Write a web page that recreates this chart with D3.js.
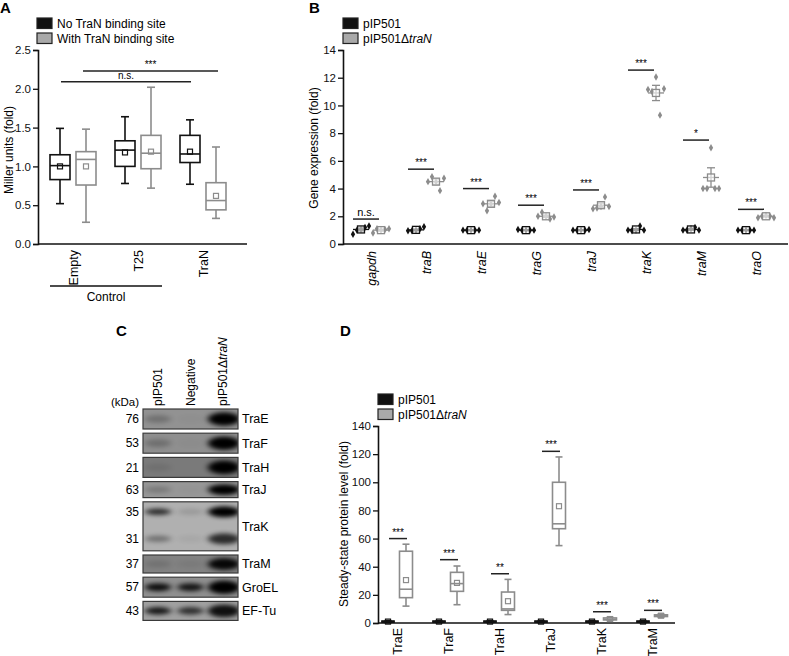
<!DOCTYPE html>
<html><head><meta charset="utf-8">
<script src="https://cdn.jsdelivr.net/npm/d3@7"></script>
<style>body{margin:0;background:#fff} svg{display:block;font-family:"Liberation Sans",Arial,sans-serif}</style>
</head><body><svg id="c" width="789" height="656"></svg>
<script>
// ---------- DATA ----------
// Panel A  (stats: [min, q1, median, q3, max, mean])
const aCategories = ["Empty", "T25", "TraN"];
const aSeriesNames = ["No TraN binding site", "With TraN binding site"];
const aNoSite = [[0.52,0.83,1.01,1.15,1.49,1.00],[0.78,1.00,1.21,1.33,1.64,1.18],[0.77,1.05,1.16,1.40,1.60,1.19]];
const aWithSite = [[0.28,0.76,1.09,1.19,1.48,1.00],[0.72,0.97,1.17,1.40,2.02,1.19],[0.33,0.44,0.56,0.79,1.25,0.62]];
const aTicks = [0, 0.5, 1.0, 1.5, 2.0, 2.5];
const aSigLabels = ["n.s.", "***"];
const aSigValues = [2.09, 2.23];
const aGroupLabel = "Control";

// Panel B
const bGenes = ["gapdh","traB","traE","traG","traJ","traK","traM","traO"];
const bSeriesNames = ["pIP501", "pIP501Δ"];
const bPIP501 = [[0.7,1.0,1.05,1.2,1.3],[0.95,0.95,1.0,1.1,1.25],[1.0,1.0,1.0,1.0,1.0],[1.05,1.0,1.0,1.0,1.0],[1.0,1.0,1.0,1.0,1.05],[1.0,0.95,1.0,1.3,1.0],[1.0,1.0,1.1,1.2,1.0],[1.0,1.0,1.0,1.0,1.0]];
const bPIP501Mean = [1.05,1.02,1.0,1.0,1.0,1.05,1.05,1.0];
const bPIP501Sem = [0.1,0.05,0.02,0.02,0.02,0.06,0.05,0.02];
const bDelta = [[0.8,1.1,1.0,1.05,1.1],[4.5,4.85,4.5,3.85,4.75],[2.9,2.4,2.9,3.45,3.0],[2.0,2.3,2.0,1.8,1.95],[2.55,2.6,2.7,3.4,2.7],[11.15,11.0,12.05,9.3,11.2],[4.0,4.0,6.95,4.0,4.0],[1.9,2.0,2.05,2.0,1.9]];
const bDeltaMean = [1.0,4.5,2.9,2.0,2.8,10.9,4.8,2.0];
const bDeltaSem = [0.06,0.2,0.18,0.08,0.15,0.55,0.7,0.05];
const bSigValues = [1.8,5.4,4.0,2.8,3.9,12.55,7.5,2.5];
const bSigLabels = ["n.s.","***","***","***","***","***","*","***"];
const bTicks = [0,2,4,6,8,10,12,14];

// Panel C (western blot)
const cLanes = ["pIP501", "Negative", "pIP501Δ"];
const cProteins = ["TraE","TraF","TraH","TraJ","TraK","TraM","GroEL","EF-Tu"];
const cKda = [["76"],["53"],["21"],["63"],["35","31"],["37"],["57"],["43"]];
// band darkness per lane (0..1), one array per band
const cBands = [
  [[0.22,0.02,1.0]],
  [[0.22,0.02,1.0]],
  [[0.08,0.0,1.0]],
  [[0.2,0.02,1.0]],
  [[0.75,0.12,1.0],[0.35,0.05,0.75]],
  [[0.12,0.06,0.95]],
  [[0.9,0.85,1.0]],
  [[0.85,0.7,0.9]]
];
const cBackground = [0.4,0.42,0.55,0.37,0.22,0.5,0.42,0.32];

// Panel D (stats: [min, q1, median, q3, max, mean])
const dProteins = ["TraE","TraF","TraH","TraJ","TraK","TraM"];
const dPIP501 = [[0.4,0.7,1,1.3,1.6,1],[0.4,0.7,1,1.3,1.6,1],[0.4,0.7,1,1.3,1.6,1],[0.4,0.7,1,1.3,1.6,1],[0.4,0.7,1,1.3,1.6,1],[0.4,0.7,1,1.3,1.6,1]];
const dDelta = [[12,18,24,51,56,30.5],[13,22.5,28,36,40.5,28.5],[6,9,10,22,31,15.5],[55,67,70.5,100,118,83],[1.8,2.2,2.6,3.6,4.0,2.8],[4.0,4.6,5.2,5.8,6.3,5.2]];
const dSigValues = [60,45,35,122,8,9];
const dSigLabels = ["***","***","**","***","***","***"];
const dTicks = [0,20,40,60,80,100,120,140];

// ---------- DRAWING ----------
const svg = d3.select("#c");
const BLACK = "#111", GRAY = "#8c8c8c", GRAYFILL = "#a9a9a9";
const FS = 11.5;

function panelLetter(x, y, t) {
  svg.append("text").attr("x", x).attr("y", y).attr("font-size", 15).attr("font-weight", "bold").text(t);
}
function legend(x, y, names, italicTail) {
  names.forEach((n, i) => {
    svg.append("rect").attr("x", x).attr("y", y + i * 15).attr("width", 15).attr("height", 10.5)
      .attr("fill", i === 0 ? BLACK : GRAYFILL).attr("stroke", "#222").attr("stroke-width", 1.2);
    const t = svg.append("text").attr("x", x + 20).attr("y", y + i * 15 + 10).attr("font-size", 12);
    t.append("tspan").text(n);
    if (i === 1 && italicTail) t.append("tspan").attr("font-style", "italic").text(italicTail);
  });
}
function yAxis(x, scale, ticks, fmt) {
  const g = svg.append("g").attr("transform", `translate(${x},0)`)
    .call(d3.axisLeft(scale).tickValues(ticks).tickFormat(fmt).tickSize(5).tickPadding(2));
  g.select(".domain").attr("stroke", "#111").attr("stroke-width", 1.6);
  g.selectAll(".tick line").attr("stroke", "#111").attr("stroke-width", 1.3);
  g.selectAll("text").attr("font-size", FS).attr("fill", "#111").attr("font-family", "Liberation Sans, Arial, sans-serif");
  return g;
}
function xLine(x0, x1, y) {
  svg.append("line").attr("x1", x0).attr("x2", x1).attr("y1", y).attr("y2", y).attr("stroke", "#111").attr("stroke-width", 1.6);
}
function yLabel(x, y, t) {
  svg.append("text").attr("transform", `translate(${x},${y}) rotate(-90)`).attr("text-anchor", "middle")
    .attr("font-size", 12).attr("dy", "0.35em").text(t);
}
function rotLabel(x, y, t, italic, size) {
  svg.append("text").attr("transform", `translate(${x},${y}) rotate(-90)`).attr("text-anchor", "end")
    .attr("dy", "0.36em").attr("font-size", size || 12).attr("font-style", italic ? "italic" : "normal").text(t);
}
function box(x, w, s, color, y, sw, capW) {
  const g = svg.append("g").attr("stroke", color).attr("stroke-width", sw).attr("fill", "none");
  g.append("line").attr("x1", x).attr("x2", x).attr("y1", y(s[4])).attr("y2", y(s[3]));
  g.append("line").attr("x1", x).attr("x2", x).attr("y1", y(s[1])).attr("y2", y(s[0]));
  g.append("line").attr("x1", x - capW/2).attr("x2", x + capW/2).attr("y1", y(s[4])).attr("y2", y(s[4]));
  g.append("line").attr("x1", x - capW/2).attr("x2", x + capW/2).attr("y1", y(s[0])).attr("y2", y(s[0]));
  g.append("rect").attr("x", x - w/2).attr("y", y(s[3])).attr("width", w).attr("height", Math.max(0.5, y(s[1]) - y(s[3])))
    .attr("fill", "#fff");
  g.append("line").attr("x1", x - w/2).attr("x2", x + w/2).attr("y1", y(s[2])).attr("y2", y(s[2]));
  g.append("rect").attr("x", x - 2.5).attr("y", y(s[5]) - 2.5).attr("width", 5).attr("height", 5).attr("stroke-width", 1.2);
}
function sig(x0, x1, yy, label, fs) {
  svg.append("line").attr("x1", x0).attr("x2", x1).attr("y1", yy).attr("y2", yy).attr("stroke", "#222").attr("stroke-width", 1.5);
  svg.append("text").attr("x", (x0 + x1) / 2).attr("y", yy - 3).attr("text-anchor", "middle").attr("font-size", fs || 10).text(label);
}

// ===== Panel A =====
panelLetter(0, 13, "A");
legend(37, 18, aSeriesNames);
const aY = d3.scaleLinear().domain([0, 2.5]).range([244, 50]);
const aX = d3.scalePoint().domain(aCategories).range([73, 203]);
yAxis(38, aY, aTicks, d3.format(".1f"));
xLine(38, 247, aY(0));
yLabel(9, 150, "Miller units (fold)");
aCategories.forEach((c, i) => {
  box(aX(c) - 13, 20, aNoSite[i], BLACK, aY, 1.6, 8);
  box(aX(c) + 13, 20, aWithSite[i], GRAY, aY, 1.6, 8);
  rotLabel(aX(c), 250, c, false, 12.5);
});
sig(aX(aCategories[0]) - 12, aX(aCategories[2]) - 12, aY(aSigValues[0]), aSigLabels[0], 10);
sig(aX(aCategories[0]) + 10, aX(aCategories[2]) + 15, aY(aSigValues[1]), aSigLabels[1], 10);
svg.append("line").attr("x1", 50).attr("x2", 162).attr("y1", 286).attr("y2", 286).attr("stroke", "#111").attr("stroke-width", 1.4);
svg.append("text").attr("x", 106).attr("y", 301).attr("text-anchor", "middle").attr("font-size", 12).text(aGroupLabel);

// ===== Panel B =====
panelLetter(309, 13, "B");
legend(343, 18, bSeriesNames, "traN");
const bY = d3.scaleLinear().domain([0, 14]).range([244, 50]);
const bX = d3.scalePoint().domain(bGenes).range([371, 756]);
yAxis(343, bY, bTicks, d3.format("d"));
xLine(343, 788, bY(0));
yLabel(314, 148, "Gene expression (fold)");
const jitter = [-8, -4, 0, 4, 8];
const diamond = d3.symbol().type(d3.symbolDiamond).size(16);
function dotGroup(cx, pts, mean, sem, color) {
  const g = svg.append("g");
  g.selectAll("path").data(pts).join("path").attr("d", diamond)
    .attr("transform", (v, k) => `translate(${cx + jitter[k]},${bY(v)})`).attr("fill", color);
  g.append("line").attr("x1", cx - 8).attr("x2", cx + 8).attr("y1", bY(mean)).attr("y2", bY(mean)).attr("stroke", color).attr("stroke-width", 1.3);
  g.append("line").attr("x1", cx).attr("x2", cx).attr("y1", bY(mean + sem)).attr("y2", bY(mean - sem)).attr("stroke", color).attr("stroke-width", 1.3);
  g.append("line").attr("x1", cx - 4).attr("x2", cx + 4).attr("y1", bY(mean + sem)).attr("y2", bY(mean + sem)).attr("stroke", color).attr("stroke-width", 1.3);
  g.append("line").attr("x1", cx - 4).attr("x2", cx + 4).attr("y1", bY(mean - sem)).attr("y2", bY(mean - sem)).attr("stroke", color).attr("stroke-width", 1.3);
  g.append("rect").attr("x", cx - 3.5).attr("y", bY(mean) - 3.5).attr("width", 7).attr("height", 7)
    .attr("fill", "#fff").attr("fill-opacity", 0.6).attr("stroke", color).attr("stroke-width", 1.3);
}
bGenes.forEach((gname, i) => {
  const c = bX(gname);
  dotGroup(c - 10, bPIP501[i], bPIP501Mean[i], bPIP501Sem[i], BLACK);
  dotGroup(c + 10, bDelta[i], bDeltaMean[i], bDeltaSem[i], GRAY);
  sig(c - 18, c + 8, bY(bSigValues[i]), bSigLabels[i], bSigLabels[i] === "n.s." ? 11 : 10);
  rotLabel(c, 251, gname, true, 12.5);
});

// ===== Panel C =====
panelLetter(116, 336, "C");
const defs = svg.append("defs");
defs.append("filter").attr("id", "blur").attr("x", "-50%").attr("y", "-100%").attr("width", "200%").attr("height", "300%")
  .append("feGaussianBlur").attr("stdDeviation", "3.2 2.2");
defs.append("filter").attr("id", "bgnoise").append("feGaussianBlur").attr("stdDeviation", 1);
const rowHeights = [20, 20, 20, 16, 49, 18, 20, 19];
const rowGap = 4.2;
const blotX0 = 143, blotX1 = 238, blotTop = 409;
const laneX = d3.scalePoint().domain(cLanes).range([158, 223]);
const grayScale = d3.scaleLinear().domain([0, 1]).range(["#d4d4d4", "#303030"]);
let yCursor = blotTop;
cProteins.forEach((p, i) => {
  const h = rowHeights[i];
  const clipId = "clip" + i;
  defs.append("clipPath").attr("id", clipId).append("rect").attr("x", blotX0).attr("y", yCursor).attr("width", blotX1 - blotX0).attr("height", h);
  const g = svg.append("g").attr("clip-path", `url(#${clipId})`);
  g.append("rect").attr("x", blotX0).attr("y", yCursor).attr("width", blotX1 - blotX0).attr("height", h).attr("fill", grayScale(cBackground[i]));
  const nb = cBands[i].length;
  cBands[i].forEach((lanes, b) => {
    const by = nb === 1 ? yCursor + h / 2 : (b === 0 ? yCursor + 10 : yCursor + h - 12);
    lanes.forEach((dark, l) => {
      if (dark <= 0) return;
      const strong = l === 2;
      const rx = strong ? 16 : 13;
      const ry = nb === 1 ? (strong ? h * 0.34 : h * 0.2) : (strong ? 5.5 : 3.2);
      g.append("ellipse").attr("cx", laneX(cLanes[l]) + (strong ? 1 : 0)).attr("cy", by).attr("rx", rx).attr("ry", ry)
        .attr("fill", "#000").attr("opacity", dark).attr("filter", "url(#blur)");
    });
    svg.append("text").attr("x", 139).attr("y", by).attr("dy", "0.35em").attr("text-anchor", "end").attr("font-size", 12).text(cKda[i][b]);
  });
  svg.append("rect").attr("x", blotX0).attr("y", yCursor).attr("width", blotX1 - blotX0).attr("height", h)
    .attr("fill", "none").attr("stroke", "#3a3a3a").attr("stroke-width", 1.2);
  svg.append("text").attr("x", 242).attr("y", yCursor + h / 2).attr("dy", "0.35em").attr("font-size", 12.5).text(p);
  yCursor += h + rowGap;
});
svg.append("text").attr("x", 125).attr("y", 406).attr("text-anchor", "middle").attr("font-size", 11.5).text("(kDa)");
cLanes.forEach((ln, l) => {
  const t = svg.append("text").attr("transform", `translate(${laneX(ln)},${406}) rotate(-90)`).attr("dy", "0.36em").attr("font-size", 12);
  t.append("tspan").text(ln);
  if (l === 2) t.append("tspan").attr("font-style", "italic").text("traN");
});

// ===== Panel D =====
panelLetter(340, 336, "D");
legend(378, 394, bSeriesNames, "traN");
const dY = d3.scaleLinear().domain([0, 140]).range([623, 426]);
const dX = d3.scalePoint().domain(dProteins).range([397, 652]);
yAxis(378, dY, dTicks, d3.format("d"));
xLine(378, 675, dY(0));
yLabel(344, 524, "Steady-state protein level (fold)");
dProteins.forEach((p, i) => {
  const c = dX(p);
  box(c - 9, 12, dPIP501[i], BLACK, dY, 1.8, 7);
  box(c + 9, 13, dDelta[i], GRAY, dY, 1.6, 7);
  sig(c - 8, c + 10, dY(dSigValues[i]), dSigLabels[i], 10);
  rotLabel(c, 628, p, false, 12.5);
});
</script></body></html>
